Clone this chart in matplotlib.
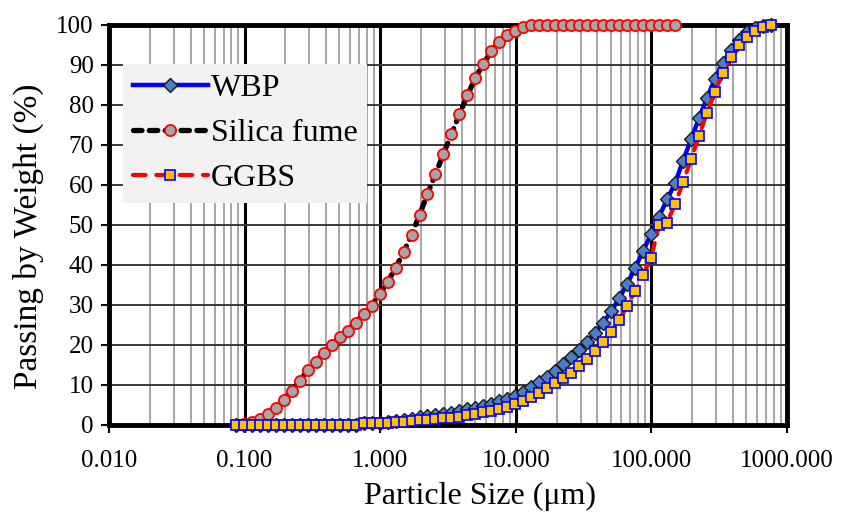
import matplotlib.pyplot as plt
from matplotlib.ticker import FixedLocator, FormatStrFormatter, LogLocator

plt.rcParams['font.family'] = ['Liberation Serif', 'DejaVu Serif']

# particle size classes (um)
size_um = [0.0861, 0.0986, 0.1129, 0.1293, 0.1481, 0.1696, 0.1942, 0.2225,
           0.2548, 0.2918, 0.3342, 0.3827, 0.4383, 0.5020, 0.5749, 0.6584,
           0.7540, 0.8635, 0.9890, 1.133, 1.297, 1.486, 1.701, 1.949,
           2.232, 2.556, 2.927, 3.352, 3.839, 4.397, 5.035, 5.767,
           6.604, 7.563, 8.662, 9.920, 11.36, 13.01, 14.90, 17.07,
           19.54, 22.38, 25.63, 29.36, 33.62, 38.50, 44.10, 50.50,
           57.83, 66.23, 75.86, 86.88, 99.49, 113.9, 130.5, 149.4,
           171.1, 196.0, 224.4, 257.0, 294.4, 337.2, 386.1, 442.2,
           506.4, 580.0, 664.2, 760.6]

wbp = [0, 0, 0, 0, 0, 0, 0, 0, 0, 0, 0, 0, 0, 0, 0, 0,
       0.4, 0.5, 0.6, 0.8, 1.0, 1.3, 1.6, 1.9, 2.2, 2.5, 2.8, 3.1,
       3.5, 3.9, 4.3, 4.8, 5.3, 5.9, 6.6, 7.3, 8.3, 9.4, 10.7, 12.1,
       13.6, 15.25, 16.9, 18.75, 20.8, 23.1, 25.6, 28.4, 31.7, 35.25, 39.3, 43.5,
       47.7, 52.1, 56.4, 60.4, 66.1, 71.4, 76.7, 81.8, 86.5, 90.6, 93.75, 96.25,
       98.3, 99.2, 99.7, 100]

ggbs = [0, 0, 0, 0, 0, 0, 0, 0, 0, 0, 0, 0, 0, 0, 0, 0,
        0.4, 0.4, 0.5, 0.6, 0.7, 0.8, 1.0, 1.2, 1.3, 1.5, 1.7, 1.8,
        2.1, 2.4, 2.8, 3.2, 3.5, 4.0, 4.6, 5.2, 6.0, 7.0, 8.0, 9.25,
        10.4, 11.7, 13.1, 14.75, 16.4, 18.4, 20.7, 23.3, 26.25, 29.75, 33.4, 37.5,
        41.8, 50.0, 50.6, 55.25, 60.7, 66.4, 72.25, 78.1, 83.3, 88.1, 91.9, 95.0,
        97.1, 98.6, 99.6, 100]

# silica fume starts at the second size class and ends at 149.4 um
silica_size = size_um[1:56]
silica = [0.2, 0.8, 1.4, 2.7, 4.2, 6.2, 8.6, 11.0, 13.7, 15.8, 18.1, 20.0,
          21.9, 23.6, 25.6, 27.7, 29.8, 32.7, 35.7, 39.2, 43.2, 47.5, 52.5, 57.8,
          62.7, 67.8, 72.7, 77.7, 82.4, 86.8, 90.3, 93.4, 95.8, 97.5, 98.6, 99.4,
          100, 100, 100, 100, 100, 100, 100, 100, 100, 100, 100, 100,
          100, 100, 100, 100, 100, 100, 100]

x_ticks = [0.01, 0.1, 1, 10, 100, 1000]
y_ticks = list(range(0, 101, 10))

fig = plt.figure(figsize=(8.49, 5.14), dpi=100, facecolor="white")
ax = fig.add_axes([0.1284, 0.1732, 0.7986, 0.7782])

ax.plot(size_um, wbp, color="#0000FF", lw=3.2, marker="D", ms=7,
        mfc="#4A7EC8", mec="#1A1A1A", mew=1.0, label="WBP",
        clip_on=False, zorder=4)
ax.plot(silica_size, silica, color="black", lw=3.8, ls=(0, (1.6, 1.4)),
        dash_capstyle="round", marker="o", ms=8, mfc="#A6A6A6",
        mec="#FF0000", mew=1.3, label="Silica fume", clip_on=False, zorder=5)
ax.plot(size_um, ggbs, color="#FF0000", lw=3.0, ls=(0, (3, 2.6)),
        dash_capstyle="round", marker="s", ms=7, mfc="#FFC000",
        mec="#0000FF", mew=1.2, label="GGBS", clip_on=False, zorder=6)

ax.set_xscale("log")
ax.set_xlim(0.01, 1000)
ax.set_ylim(0, 100)
ax.xaxis.set_major_locator(FixedLocator(x_ticks))
ax.xaxis.set_major_formatter(FormatStrFormatter("%.3f"))
ax.xaxis.set_minor_locator(LogLocator(base=10, subs=range(2, 10), numticks=20))
ax.yaxis.set_major_locator(FixedLocator(y_ticks))

ax.grid(which="major", axis="x", color="black", lw=2.2, zorder=1)
ax.grid(which="minor", axis="x", color="#A0A0A0", lw=1.3, zorder=0)
ax.grid(which="major", axis="y", color="#3A3A3A", lw=1.4, zorder=1)
ax.set_axisbelow(True)

ax.tick_params(axis="both", which="major", direction="out", length=6,
               width=1.5, labelsize=18, color="black")
ax.tick_params(axis="x", which="minor", length=0)
ax.tick_params(axis="x", pad=12)
ax.tick_params(axis="y", pad=5)
for sp in ax.spines.values():
    sp.set_linewidth(3.5)
    sp.set_color("black")

ax.set_xlabel("Particle Size (\u03bcm)", fontsize=23)
ax.xaxis.label.set_va("center")
ax.xaxis.set_label_coords(0.547, -0.178)
ax.set_ylabel("Passing by Weight (%)", fontsize=24)
ax.yaxis.label.set_va("center")
ax.yaxis.set_label_coords(-0.119, 0.472)

leg = ax.legend(loc="upper left", bbox_to_anchor=(0.021, 0.903), fontsize=23,
                frameon=True, fancybox=False, facecolor="#F2F2F2",
                edgecolor="none", framealpha=1, handlelength=2.35,
                numpoints=1, borderpad=0.3, labelspacing=0.5,
                handletextpad=0.1, borderaxespad=0)
leg.set_zorder(7)

fig.savefig("out.png", dpi=100, facecolor="white")
